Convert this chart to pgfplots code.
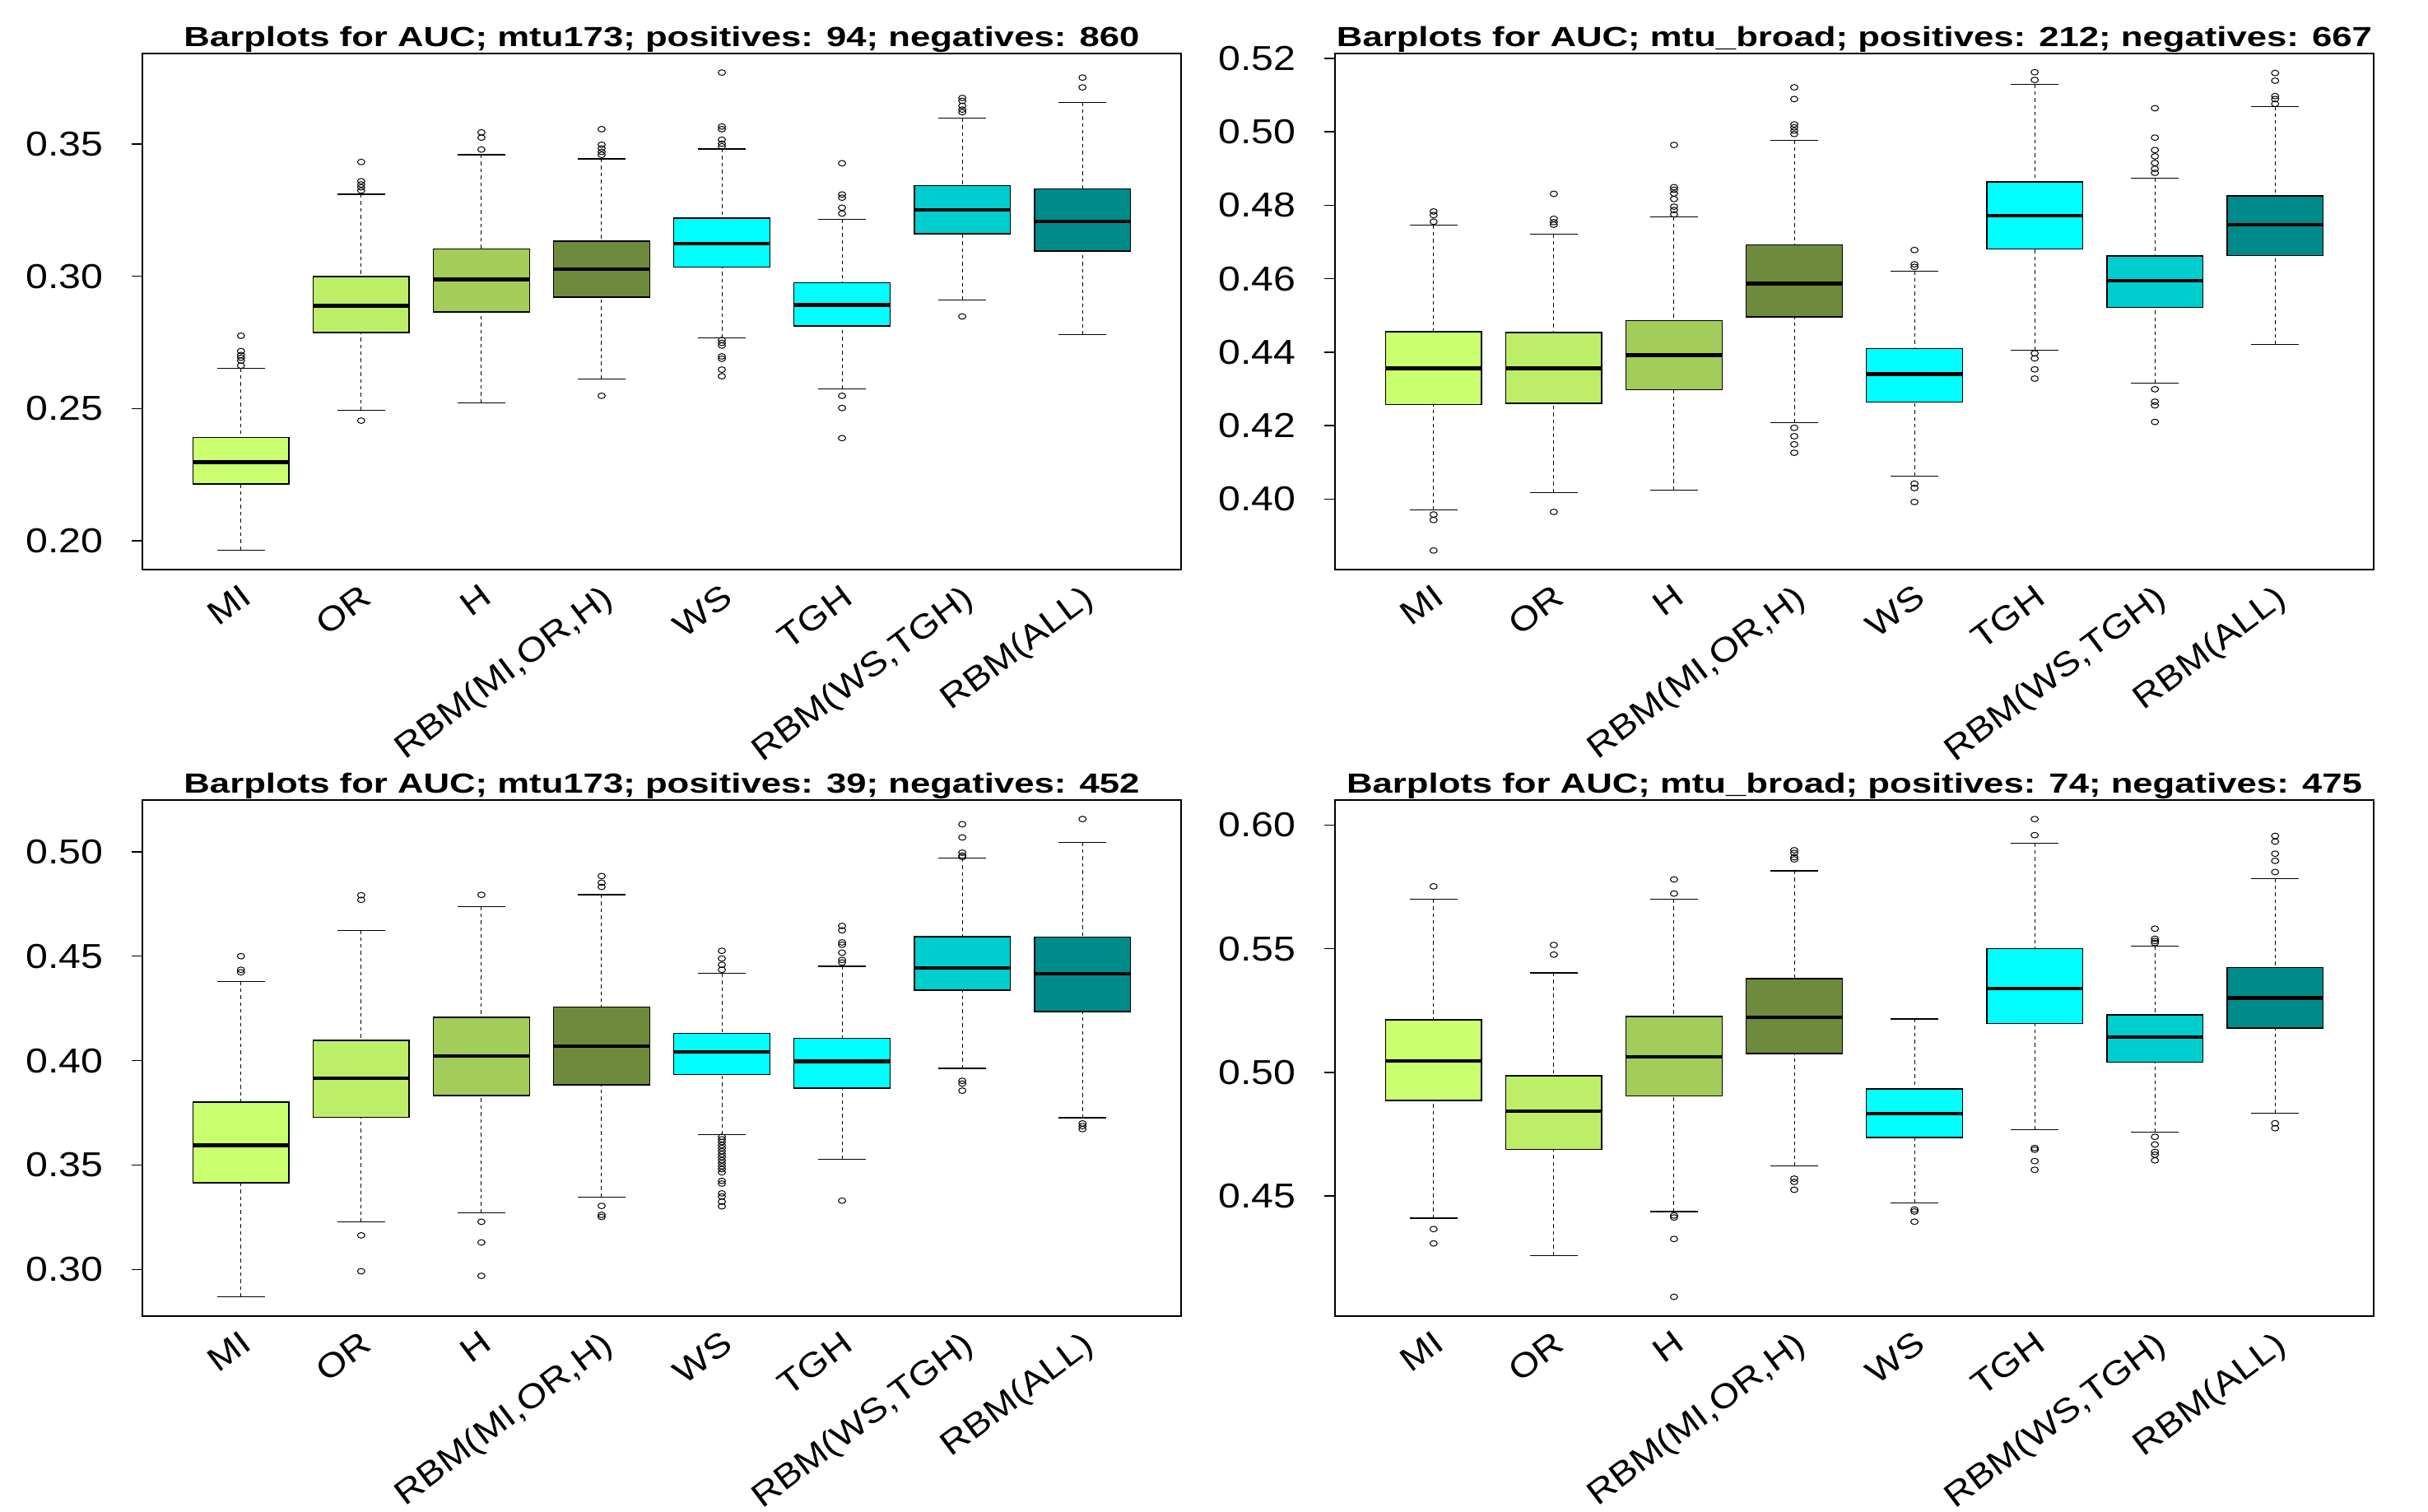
\documentclass[border=0pt]{standalone}
\usepackage{pgfplots}
\pgfplotsset{compat=1.18}
\usepgfplotslibrary{statistics}
\usepackage{fontspec}
\setmainfont{Liberation Sans}[FakeStretch=1.3]
\newfontfamily\xlabfont{Liberation Sans}[FakeStretch=1.15]

\definecolor{cMI}{HTML}{CAFF70}
\definecolor{cOR}{HTML}{BCEE68}
\definecolor{cH}{HTML}{A2CD5A}
\definecolor{cRt}{HTML}{6E8B3D}
\definecolor{cWS}{HTML}{00FFFF}
\definecolor{cTGH}{HTML}{00FFFF}
\definecolor{cRW}{HTML}{00CDCD}
\definecolor{cALL}{HTML}{008B8B}

\pgfplotsset{
  boxplot/draw/lower whisker/.code={%
    \draw[black, line width=0.25pt, dash pattern=on 1.1pt off 1pt]
      (boxplot box cs:\pgfplotsboxplotvalue{lower whisker},0.5) --
      (boxplot box cs:\pgfplotsboxplotvalue{lower quartile},0.5);
    \draw[black, line width=0.3pt, solid]
      (boxplot whisker cs:\pgfplotsboxplotvalue{lower whisker},0) --
      (boxplot whisker cs:\pgfplotsboxplotvalue{lower whisker},1);
  },
  boxplot/draw/upper whisker/.code={%
    \draw[black, line width=0.25pt, dash pattern=on 1.1pt off 1pt]
      (boxplot box cs:\pgfplotsboxplotvalue{upper whisker},0.5) --
      (boxplot box cs:\pgfplotsboxplotvalue{upper quartile},0.5);
    \draw[black, line width=0.3pt, solid]
      (boxplot whisker cs:\pgfplotsboxplotvalue{upper whisker},0) --
      (boxplot whisker cs:\pgfplotsboxplotvalue{upper whisker},1);
  },
  panel/.style={
    scale only axis, width=315.5pt, height=156.75pt,
    xmin=0.18, xmax=8.82,
    xtick={1,2,3,4,5,6,7,8},
    xticklabels={MI,OR,H,{RBM(MI,OR,H)},WS,TGH,{RBM(WS,TGH)},{RBM(ALL)}},
    axis line style={line width=0.4pt},
    tick align=outside, major tick length=3.25pt,
    ytick pos=left, xtick pos=bottom,
    x tick style={draw=none},
    y tick style={line width=0.35pt, black},
    /pgf/number format/assume math mode=true,
    yticklabel style={font=\xlabfont\fontsize{10.5}{12}\selectfont, /pgf/number format/.cd, fixed, fixed zerofill, precision=2, /tikz/.cd, anchor=east, inner sep=0pt, xshift=-8.5pt},
    xticklabel style={font=\xlabfont\fontsize{10.2}{12}\selectfont, xshift=-0.5pt, yshift=-0.5pt, rotate=37, anchor=north east, inner sep=0pt},
    every axis title shift=0pt,
    title style={at={(0.5,1)}, anchor=base, yshift=2.25pt, inner sep=0pt, font=\bfseries\fontsize{8.4}{10}\selectfont},
  }
}

\newcommand{\bx}[8]{%
  \addplot[black, mark=o, mark size=0.85pt,
    mark options={solid, line width=0.25pt, xscale=1.3},
    boxplot/draw direction=y,
    boxplot/every box/.style={draw=black, line width=0.4pt, fill=#1},
    boxplot/every median/.style={line width=1.1pt},
    boxplot prepared={draw position=#2, lower whisker=#3, lower quartile=#4,
      median=#5, upper quartile=#6, upper whisker=#7,
      box extend=0.8, whisker extend=0.4}]
    coordinates {#8};}

\begin{document}
\begin{tikzpicture}
\useasboundingbox (0,0) rectangle (737.5pt,459pt);

% Panel 1
\begin{axis}[panel, at={(43.25pt,286pt)}, anchor=south west,
  ymin=0.1891, ymax=0.3842, ytick={0.20,0.25,0.30,0.35},
  title={Barplots for AUC; mtu173; positives: 94; negatives: 860}]
\bx{cMI}{1}{0.1965}{0.2214}{0.2297}{0.2391}{0.2652}{(0,0.2775)(0,0.2717)(0,0.2702)(0,0.2692)(0,0.2681)(0,0.2662)}
\bx{cOR}{2}{0.2493}{0.2787}{0.2888}{0.2999}{0.3310}{(0,0.3432)(0,0.3359)(0,0.3347)(0,0.3336)(0,0.3324)(0,0.2454)}
\bx{cH}{3}{0.2522}{0.2865}{0.2988}{0.3103}{0.3459}{(0,0.3544)(0,0.3524)(0,0.3479)}
\bx{cRt}{4}{0.2611}{0.2921}{0.3026}{0.3133}{0.3444}{(0,0.3556)(0,0.3497)(0,0.3483)(0,0.3470)(0,0.3459)(0,0.2548)}
\bx{cWS}{5}{0.2768}{0.3035}{0.3123}{0.3219}{0.3481}{(0,0.3770)(0,0.3566)(0,0.3556)(0,0.3516)(0,0.3501)(0,0.3491)(0,0.2759)(0,0.2748)(0,0.2738)(0,0.2697)(0,0.2688)(0,0.2647)(0,0.2622)}
\bx{cTGH}{6}{0.2574}{0.2812}{0.2892}{0.2975}{0.3215}{(0,0.3427)(0,0.3309)(0,0.3297)(0,0.3259)(0,0.3237)(0,0.2548)(0,0.2502)(0,0.2388)}
\bx{cRW}{7}{0.2909}{0.3160}{0.3250}{0.3343}{0.3597}{(0,0.3674)(0,0.3663)(0,0.3644)(0,0.3630)(0,0.3620)(0,0.2848)}
\bx{cALL}{8}{0.2779}{0.3095}{0.3207}{0.3330}{0.3657}{(0,0.3751)(0,0.3714)}
\end{axis}

% Panel 2
\begin{axis}[panel, at={(405.5pt,286pt)}, anchor=south west,
  ymin=0.3808, ymax=0.5213, ytick={0.40,0.42,0.44,0.46,0.48,0.50,0.52},
  title={Barplots for AUC; mtu\_broad; positives: 212; negatives: 667}]
\bx{cMI}{1}{0.3970}{0.4257}{0.4356}{0.4456}{0.4746}{(0,0.4783)(0,0.4773)(0,0.4755)(0,0.3958)(0,0.3943)(0,0.3860)}
\bx{cOR}{2}{0.4018}{0.4261}{0.4356}{0.4454}{0.4722}{(0,0.4831)(0,0.4763)(0,0.4754)(0,0.4747)(0,0.3965)}
\bx{cH}{3}{0.4025}{0.4298}{0.4392}{0.4486}{0.4768}{(0,0.4964)(0,0.4849)(0,0.4842)(0,0.4832)(0,0.4817)(0,0.4796)(0,0.4787)(0,0.4775)}
\bx{cRt}{4}{0.4208}{0.4496}{0.4587}{0.4692}{0.4977}{(0,0.5121)(0,0.5089)(0,0.5020)(0,0.5012)(0,0.5003)(0,0.4994)(0,0.4194)(0,0.4171)(0,0.4149)(0,0.4126)}
\bx{cWS}{5}{0.4063}{0.4264}{0.4340}{0.4410}{0.4621}{(0,0.4678)(0,0.4639)(0,0.4632)(0,0.4042)(0,0.4030)(0,0.3992)}
\bx{cTGH}{6}{0.4406}{0.4681}{0.4771}{0.4864}{0.5129}{(0,0.5162)(0,0.5141)(0,0.4397)(0,0.4383)(0,0.4353)(0,0.4328)}
\bx{cRW}{7}{0.4315}{0.4522}{0.4594}{0.4662}{0.4874}{(0,0.5064)(0,0.4984)(0,0.4950)(0,0.4933)(0,0.4915)(0,0.4899)(0,0.4888)(0,0.4299)(0,0.4265)(0,0.4255)(0,0.4210)}
\bx{cALL}{8}{0.4420}{0.4663}{0.4747}{0.4826}{0.5069}{(0,0.5160)(0,0.5139)(0,0.5097)(0,0.5089)(0,0.5076)}
\end{axis}

% Panel 3
\begin{axis}[panel, at={(43.25pt,59.25pt)}, anchor=south west,
  ymin=0.2776, ymax=0.5248, ytick={0.30,0.35,0.40,0.45,0.50},
  title={Barplots for AUC; mtu173; positives: 39; negatives: 452}]
\bx{cMI}{1}{0.2868}{0.3414}{0.3594}{0.3802}{0.4379}{(0,0.4500)(0,0.4435)(0,0.4423)}
\bx{cOR}{2}{0.3226}{0.3728}{0.3916}{0.4097}{0.4624}{(0,0.4792)(0,0.4770)(0,0.3163)(0,0.2991)}
\bx{cH}{3}{0.3272}{0.3833}{0.4021}{0.4207}{0.4738}{(0,0.4794)(0,0.3228)(0,0.3129)(0,0.2969)}
\bx{cRt}{4}{0.3347}{0.3883}{0.4070}{0.4256}{0.4795}{(0,0.4884)(0,0.4852)(0,0.4832)(0,0.3304)(0,0.3261)(0,0.3251)}
\bx{cWS}{5}{0.3646}{0.3934}{0.4042}{0.4131}{0.4417}{(0,0.4526)(0,0.4489)(0,0.4459)(0,0.4435)(0,0.3635)(0,0.3623)(0,0.3610)(0,0.3595)(0,0.3581)(0,0.3566)(0,0.3552)(0,0.3538)(0,0.3523)(0,0.3509)(0,0.3494)(0,0.3480)(0,0.3465)(0,0.3424)(0,0.3411)(0,0.3364)(0,0.3349)(0,0.3324)(0,0.3302)}
\bx{cTGH}{6}{0.3528}{0.3869}{0.3997}{0.4106}{0.4452}{(0,0.4645)(0,0.4624)(0,0.4566)(0,0.4555)(0,0.4517)(0,0.4482)(0,0.4470)(0,0.3329)}
\bx{cRW}{7}{0.3963}{0.4338}{0.4444}{0.4593}{0.4969}{(0,0.5132)(0,0.5069)(0,0.4996)(0,0.4982)(0,0.4975)(0,0.3903)(0,0.3890)(0,0.3856)}
\bx{cALL}{8}{0.3726}{0.4236}{0.4417}{0.4591}{0.5045}{(0,0.5157)(0,0.3699)(0,0.3686)(0,0.3672)}
\end{axis}

% Panel 4
\begin{axis}[panel, at={(405.5pt,59.25pt)}, anchor=south west,
  ymin=0.4014, ymax=0.6101, ytick={0.45,0.50,0.55,0.60},
  title={Barplots for AUC; mtu\_broad; positives: 74; negatives: 475}]
\bx{cMI}{1}{0.4410}{0.4886}{0.5046}{0.5213}{0.5699}{(0,0.5752)(0,0.4366)(0,0.4308)}
\bx{cOR}{2}{0.4260}{0.4688}{0.4843}{0.4986}{0.5402}{(0,0.5515)(0,0.5476)}
\bx{cH}{3}{0.4437}{0.4904}{0.5063}{0.5226}{0.5699}{(0,0.5780)(0,0.5723)(0,0.4421)(0,0.4413)(0,0.4326)(0,0.4092)}
\bx{cRt}{4}{0.4622}{0.5076}{0.5223}{0.5379}{0.5815}{(0,0.5898)(0,0.5887)(0,0.5870)(0,0.5861)(0,0.4570)(0,0.4557)(0,0.4525)}
\bx{cWS}{5}{0.4473}{0.4737}{0.4832}{0.4933}{0.5216}{(0,0.4445)(0,0.4437)(0,0.4396)}
\bx{cTGH}{6}{0.4768}{0.5197}{0.5339}{0.5500}{0.5927}{(0,0.6024)(0,0.5959)(0,0.4694)(0,0.4687)(0,0.4641)(0,0.4606)}
\bx{cRW}{7}{0.4757}{0.5041}{0.5142}{0.5232}{0.5509}{(0,0.5581)(0,0.5540)(0,0.5531)(0,0.5523)(0,0.4739)(0,0.4708)(0,0.4678)(0,0.4667)(0,0.4644)}
\bx{cALL}{8}{0.4835}{0.5179}{0.5301}{0.5424}{0.5783}{(0,0.5956)(0,0.5933)(0,0.5884)(0,0.5855)(0,0.5810)(0,0.4794)(0,0.4774)}
\end{axis}
\end{tikzpicture}
\end{document}
